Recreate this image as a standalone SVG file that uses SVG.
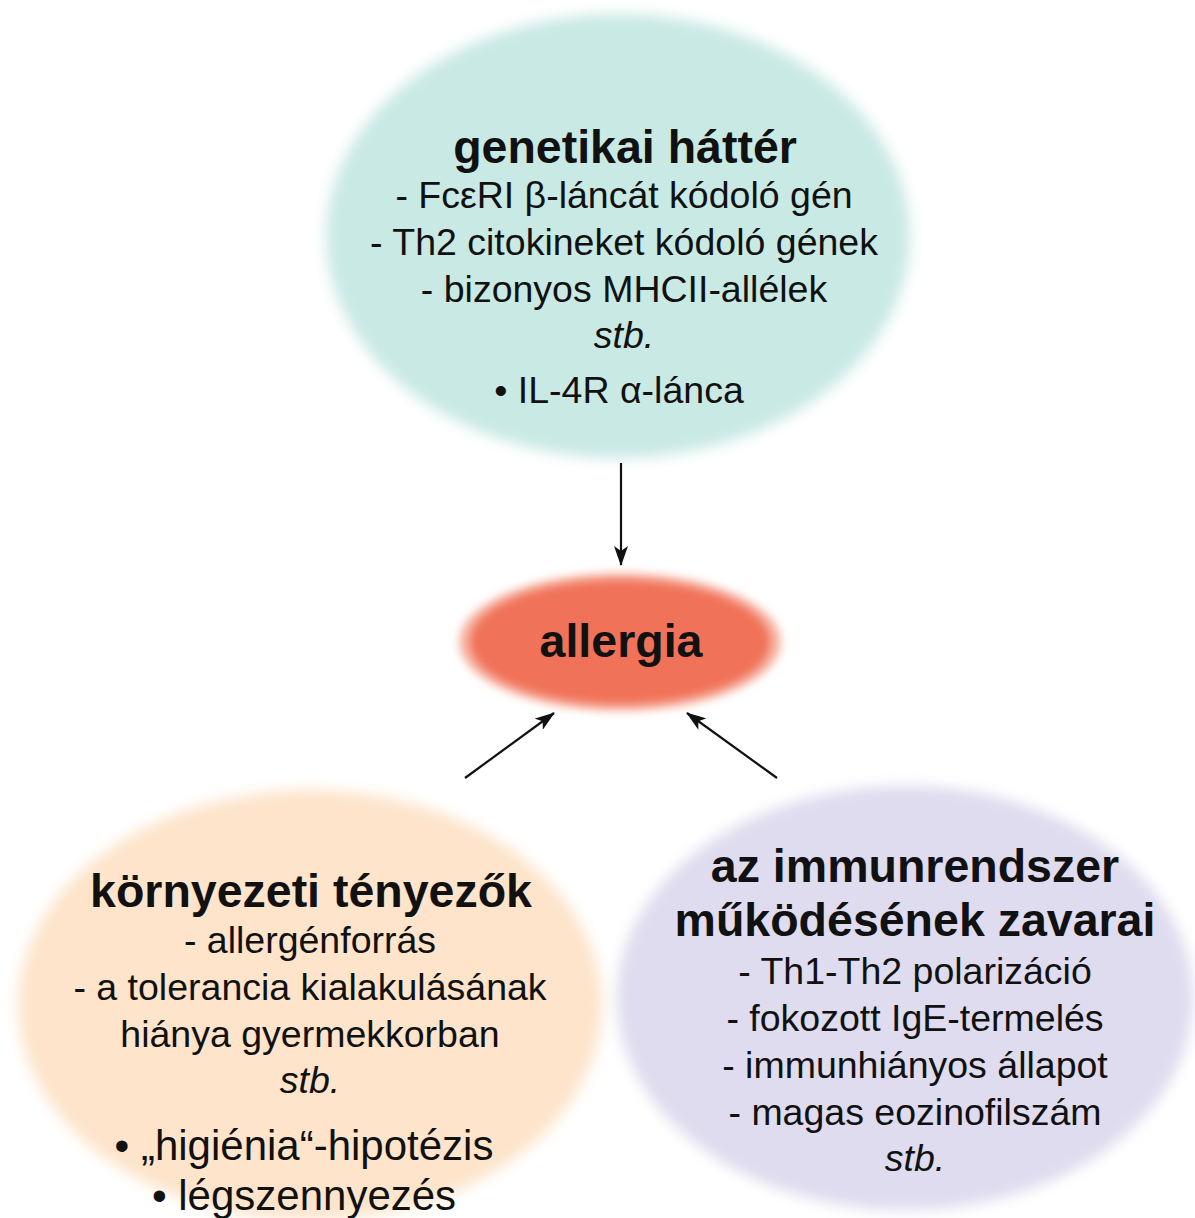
<svg xmlns="http://www.w3.org/2000/svg" width="1195" height="1218" viewBox="0 0 1195 1218">
<defs>
<style>
text{font-family:"Liberation Sans",Arial,sans-serif;fill:#111;text-anchor:middle}
.t{font-size:46.5px;font-weight:bold}
.b{font-size:37.5px}
.i{font-size:37.5px;font-style:italic}
.big{font-size:42px}
.conn{stroke:#111;stroke-width:2.2;fill:none;marker-end:url(#ah)}
</style>
<filter id="soft" x="-10%" y="-10%" width="120%" height="120%"><feGaussianBlur stdDeviation="7"/></filter>
<filter id="soft2" x="-10%" y="-20%" width="120%" height="140%"><feGaussianBlur stdDeviation="4"/></filter>
<marker id="ah" viewBox="0 0 20 14" refX="19" refY="7" markerWidth="20" markerHeight="14" markerUnits="userSpaceOnUse" orient="auto"><path d="M0,0 L20,7 L0,14 L5,7 Z" fill="#111"/></marker>
</defs>
<rect width="1195" height="1218" fill="#fff"/>
<g id="genetic">
<ellipse cx="618" cy="236" rx="292" ry="222" fill="#c9e9e4" filter="url(#soft)"/>
<text class="t" x="625" y="163">genetikai háttér</text>
<text class="b" x="624" y="208">- FcεRI β-láncát kódoló gén</text>
<text class="b" x="624" y="255">- Th2 citokineket kódoló gének</text>
<text class="b" x="624" y="302">- bizonyos MHCII-allélek</text>
<text class="i" x="624" y="348">stb.</text>
<text class="b" x="619" y="403">• IL-4R α-lánca</text>
</g>
<g id="allergia">
<ellipse cx="620" cy="642" rx="161" ry="69" fill="#f7b2a2" filter="url(#soft2)"/>
<ellipse cx="620" cy="642" rx="150" ry="62" fill="#f07258" filter="url(#soft2)"/>
<text class="t" x="621" y="657">allergia</text>
</g>
<g id="environment">
<ellipse cx="310" cy="1005" rx="292" ry="215" fill="#fde4cb" filter="url(#soft)"/>
<text class="t" x="311" y="907">környezeti tényezők</text>
<text class="b" x="310" y="953">- allergénforrás</text>
<text class="b" x="310" y="1000">- a tolerancia kialakulásának</text>
<text class="b" x="310" y="1047">hiánya gyermekkorban</text>
<text class="i" x="310" y="1093">stb.</text>
<text class="big" x="304" y="1160">• „higiénia“-hipotézis</text>
<text class="big" x="304" y="1210">• légszennyezés</text>
</g>
<g id="immune">
<ellipse cx="905" cy="998" rx="288" ry="212" fill="#dedcee" filter="url(#soft)"/>
<text class="t" x="915" y="882">az immunrendszer</text>
<text class="t" x="915" y="936">működésének zavarai</text>
<text class="b" x="915" y="984">- Th1-Th2 polarizáció</text>
<text class="b" x="915" y="1031">- fokozott IgE-termelés</text>
<text class="b" x="915" y="1078">- immunhiányos állapot</text>
<text class="b" x="915" y="1125">- magas eozinofilszám</text>
<text class="i" x="915" y="1171">stb.</text>
</g>
<g id="connectors">
<line class="conn" x1="621" y1="463" x2="621" y2="565"/>
<line class="conn" x1="465" y1="778" x2="554" y2="713"/>
<line class="conn" x1="777" y1="778" x2="687" y2="713"/>
</g>
</svg>
